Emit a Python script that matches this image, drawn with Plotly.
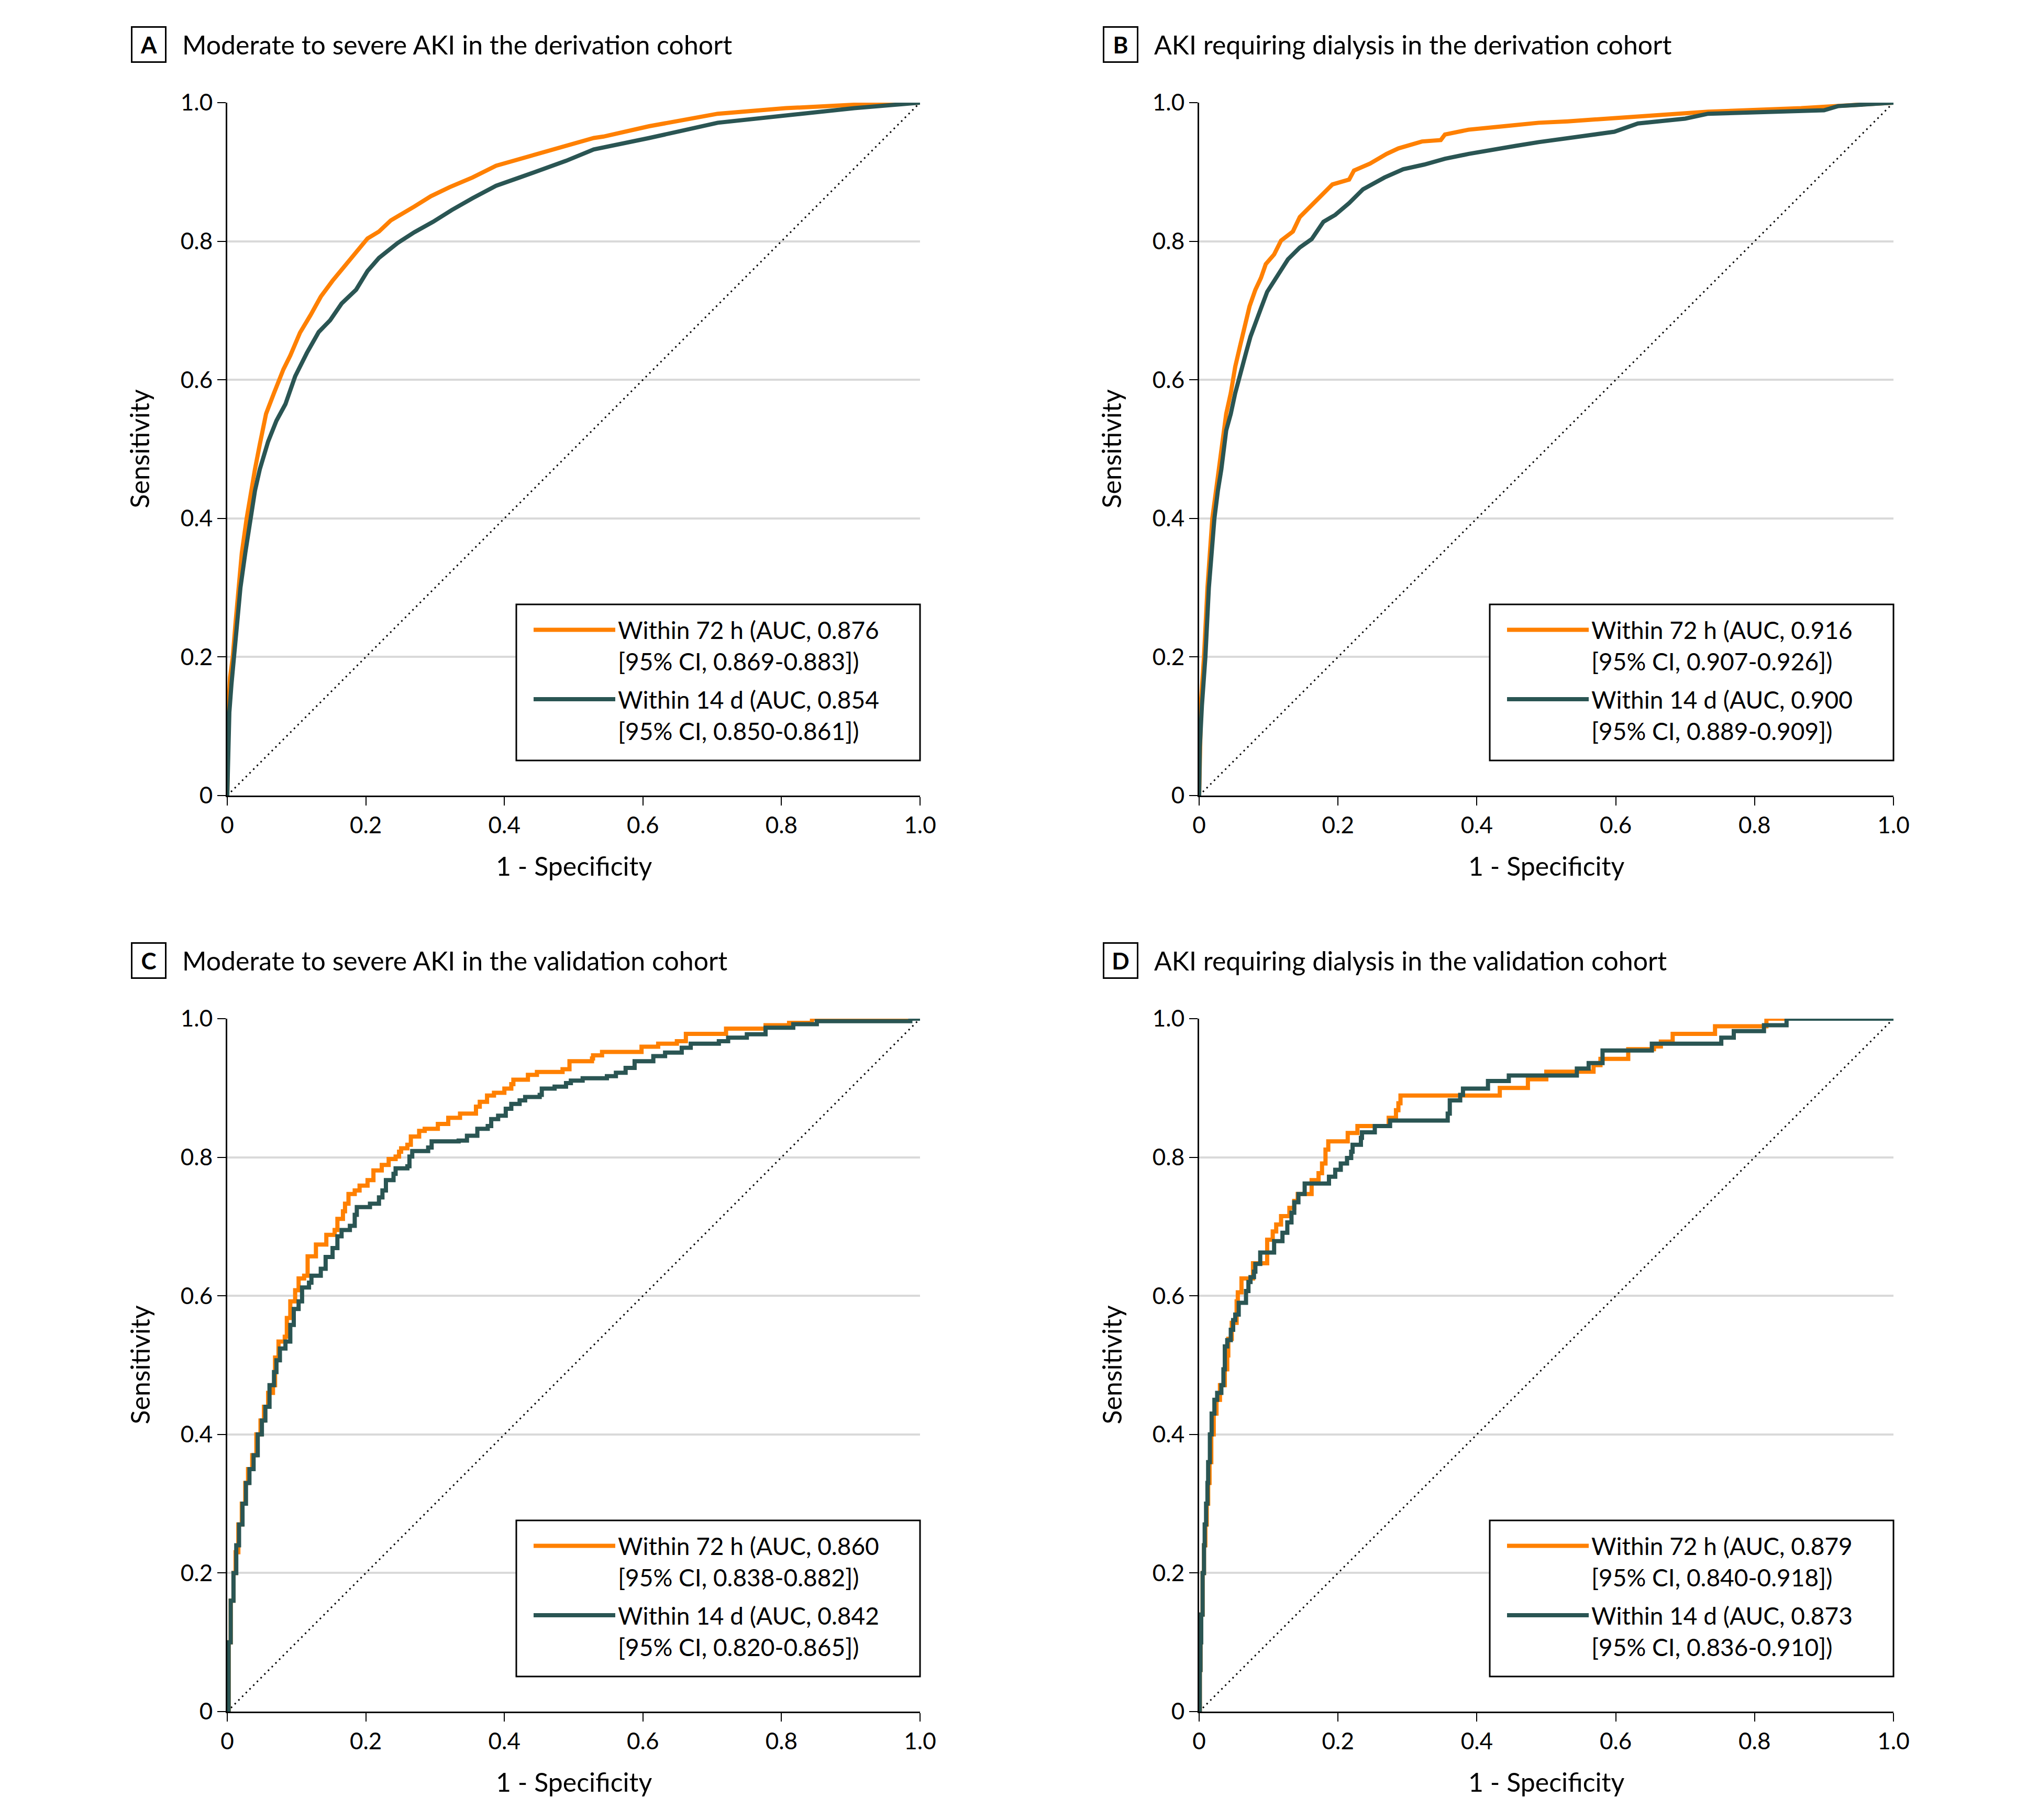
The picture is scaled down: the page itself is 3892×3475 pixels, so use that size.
import plotly.graph_objects as go

W, H = 3892, 3475

# ---------------- data ----------------
# Panel A: Moderate to severe AKI, derivation cohort
a72_fpr = [0, 0.001, 0.002, 0.004, 0.008, 0.012, 0.016, 0.021, 0.028, 0.034, 0.040, 0.047, 0.056, 0.0675, 0.081,
           0.091, 0.105, 0.120, 0.135, 0.152, 0.172, 0.184, 0.2025, 0.219, 0.236, 0.270, 0.294, 0.321, 0.354,
           0.388, 0.422, 0.456, 0.489, 0.529, 0.543, 0.609, 0.708, 0.806, 0.905, 1.0]
a72_tpr = [0, 0.08, 0.13, 0.17, 0.20, 0.25, 0.30, 0.35, 0.40, 0.44, 0.471, 0.507, 0.551, 0.581, 0.615,
           0.635, 0.668, 0.693, 0.720, 0.743, 0.767, 0.781, 0.804, 0.814, 0.830, 0.850, 0.865, 0.878, 0.892,
           0.909, 0.919, 0.929, 0.938, 0.949, 0.951, 0.966, 0.984, 0.992, 0.997, 1.0]
a14_fpr = [0, 0.001, 0.003, 0.006, 0.010, 0.014, 0.019, 0.026, 0.034, 0.040, 0.047, 0.059, 0.071, 0.084, 0.098,
           0.115, 0.132, 0.1485, 0.165, 0.186, 0.2025, 0.219, 0.246, 0.270, 0.297, 0.324, 0.354, 0.388, 0.422,
           0.456, 0.489, 0.529, 0.609, 0.708, 0.806, 0.905, 1.0]
a14_tpr = [0, 0.07, 0.12, 0.16, 0.20, 0.25, 0.30, 0.35, 0.40, 0.44, 0.471, 0.511, 0.541, 0.565, 0.605,
           0.639, 0.669, 0.686, 0.710, 0.730, 0.757, 0.776, 0.7975, 0.813, 0.828, 0.845, 0.862, 0.880, 0.892,
           0.904, 0.916, 0.9325, 0.949, 0.971, 0.982, 0.992, 1.0]

# Panel B: AKI requiring dialysis, derivation cohort
b72_fpr = [0, 0.001, 0.003, 0.007, 0.012, 0.019, 0.024, 0.029, 0.034, 0.039, 0.0456, 0.052, 0.059, 0.066,
           0.0726, 0.081, 0.089, 0.096, 0.108, 0.118, 0.135, 0.145, 0.162, 0.175, 0.192, 0.216, 0.223, 0.246,
           0.270, 0.287, 0.321, 0.348, 0.354, 0.388, 0.439, 0.489, 0.531, 0.665, 0.733, 0.867, 1.0]
b72_tpr = [0, 0.08, 0.14, 0.20, 0.30, 0.40, 0.44, 0.471, 0.514, 0.551, 0.581, 0.619, 0.649, 0.679,
           0.706, 0.730, 0.747, 0.767, 0.781, 0.801, 0.814, 0.835, 0.851, 0.865, 0.882, 0.889, 0.902, 0.912,
           0.926, 0.934, 0.944, 0.946, 0.954, 0.961, 0.966, 0.971, 0.973, 0.982, 0.987, 0.992, 1.0]
b14_fpr = [0, 0.001, 0.004, 0.009, 0.014, 0.022, 0.027, 0.032, 0.039, 0.0456, 0.052, 0.061, 0.0675, 0.074,
           0.081, 0.089, 0.098, 0.115, 0.128, 0.145, 0.162, 0.179, 0.196, 0.216, 0.236, 0.267, 0.294, 0.324,
           0.354, 0.388, 0.422, 0.456, 0.489, 0.529, 0.598, 0.632, 0.700, 0.733, 0.900, 0.920, 1.0]
b14_tpr = [0, 0.07, 0.13, 0.20, 0.30, 0.40, 0.44, 0.471, 0.527, 0.551, 0.581, 0.612, 0.639, 0.6625,
           0.683, 0.703, 0.727, 0.754, 0.774, 0.791, 0.803, 0.828, 0.838, 0.855, 0.875, 0.892, 0.904, 0.9106,
           0.919, 0.926, 0.9325, 0.9376, 0.943, 0.949, 0.958, 0.970, 0.977, 0.984, 0.989, 0.995, 1.0]

# Panel C: Moderate to severe AKI, validation cohort (step curves)
c72_fpr = [0, 0.002, 0.005, 0.009, 0.012, 0.016, 0.021, 0.026, 0.030, 0.036, 0.042, 0.048, 0.053, 0.059, 0.066,
           0.069, 0.074, 0.083, 0.086, 0.091, 0.098, 0.103, 0.111, 0.116, 0.128, 0.143, 0.155, 0.159, 0.167,
           0.170, 0.175, 0.184, 0.191, 0.2025, 0.211, 0.223, 0.233, 0.243, 0.248, 0.251, 0.260, 0.265, 0.277,
           0.285, 0.304, 0.319, 0.336, 0.359, 0.3645, 0.375, 0.385, 0.400, 0.410, 0.413, 0.434, 0.447, 0.484,
           0.494, 0.5265, 0.528, 0.541, 0.598, 0.622, 0.649, 0.662, 0.720, 0.777, 0.811, 0.844, 1.0]
c72_tpr = [0, 0.10, 0.16, 0.20, 0.23, 0.27, 0.30, 0.33, 0.35, 0.37, 0.40, 0.42, 0.44, 0.46, 0.471,
           0.511, 0.534, 0.541, 0.568, 0.592, 0.608, 0.625, 0.629, 0.657, 0.674, 0.688, 0.695, 0.711, 0.722,
           0.733, 0.747, 0.752, 0.759, 0.767, 0.781, 0.789, 0.7975, 0.801, 0.808, 0.813, 0.818, 0.830, 0.838,
           0.841, 0.848, 0.857, 0.863, 0.873, 0.880, 0.889, 0.893, 0.899, 0.9055, 0.912, 0.919, 0.923, 0.927,
           0.9386, 0.9426, 0.947, 0.952, 0.9595, 0.964, 0.9675, 0.978, 0.9856, 0.9906, 0.994, 1.0, 1.0]
c14_fpr = [0, 0.002, 0.005, 0.009, 0.013, 0.017, 0.022, 0.027, 0.032, 0.038, 0.044, 0.050, 0.055, 0.061,
           0.0675, 0.071, 0.076, 0.084, 0.091, 0.096, 0.103, 0.108, 0.118, 0.1215, 0.135, 0.142, 0.152, 0.159,
           0.165, 0.177, 0.184, 0.187, 0.206, 0.219, 0.224, 0.229, 0.240, 0.243, 0.260, 0.263, 0.267, 0.290,
           0.295, 0.334, 0.346, 0.361, 0.376, 0.381, 0.391, 0.402, 0.410, 0.422, 0.430, 0.451, 0.454, 0.4725,
           0.489, 0.496, 0.513, 0.548, 0.561, 0.575, 0.588, 0.615, 0.632, 0.656, 0.669, 0.7096, 0.723, 0.750,
           0.777, 0.817, 0.851, 0.986, 1.0]
c14_tpr = [0, 0.10, 0.16, 0.20, 0.24, 0.27, 0.30, 0.33, 0.35, 0.37, 0.40, 0.42, 0.44, 0.471,
           0.490, 0.507, 0.524, 0.534, 0.558, 0.581, 0.592, 0.612, 0.619, 0.629, 0.639, 0.656, 0.669, 0.686,
           0.695, 0.701, 0.717, 0.728, 0.733, 0.742, 0.752, 0.767, 0.776, 0.784, 0.787, 0.801, 0.809, 0.814,
           0.823, 0.824, 0.831, 0.841, 0.845, 0.855, 0.860, 0.870, 0.877, 0.882, 0.887, 0.890, 0.899, 0.902,
           0.907, 0.9106, 0.914, 0.917, 0.922, 0.929, 0.9386, 0.946, 0.951, 0.958, 0.964, 0.9675, 0.9726, 0.9776,
           0.987, 0.992, 0.9964, 1.0, 1.0]

# Panel D: AKI requiring dialysis, validation cohort (step curves)
d72_fpr = [0, 0.001, 0.002, 0.003, 0.005, 0.007, 0.009, 0.011, 0.013, 0.015, 0.0175, 0.021, 0.025, 0.030,
           0.037, 0.0405, 0.042, 0.047, 0.054, 0.0557, 0.061, 0.0776, 0.098, 0.106, 0.111, 0.118, 0.130,
           0.137, 0.142, 0.162, 0.172, 0.177, 0.182, 0.186, 0.214, 0.228, 0.273, 0.2835, 0.287, 0.290, 0.433,
           0.4735, 0.500, 0.568, 0.578, 0.618, 0.655, 0.665, 0.682, 0.743, 0.817, 1.0]
d72_tpr = [0, 0.06, 0.10, 0.14, 0.20, 0.24, 0.27, 0.30, 0.33, 0.36, 0.40, 0.43, 0.45, 0.471,
           0.494, 0.514, 0.538, 0.561, 0.592, 0.605, 0.625, 0.647, 0.681, 0.693, 0.703, 0.715, 0.727,
           0.737, 0.747, 0.767, 0.777, 0.791, 0.811, 0.823, 0.835, 0.845, 0.857, 0.868, 0.878, 0.889, 0.900,
           0.9126, 0.9235, 0.933, 0.942, 0.956, 0.960, 0.967, 0.978, 0.989, 1.0, 1.0]
d14_fpr = [0, 0.001, 0.002, 0.003, 0.005, 0.007, 0.008, 0.010, 0.012, 0.013, 0.0155, 0.018, 0.022, 0.026,
           0.032, 0.035, 0.037, 0.0405, 0.0456, 0.049, 0.052, 0.057, 0.0675, 0.071, 0.074, 0.079, 0.081, 0.088,
           0.108, 0.120, 0.127, 0.133, 0.137, 0.143, 0.152, 0.187, 0.196, 0.204, 0.213, 0.219, 0.221, 0.233,
           0.2345, 0.253, 0.275, 0.358, 0.361, 0.376, 0.380, 0.416, 0.446, 0.544, 0.561, 0.581, 0.652, 0.752,
           0.770, 0.8135, 0.846, 1.0]
d14_tpr = [0, 0.06, 0.10, 0.14, 0.20, 0.24, 0.27, 0.30, 0.33, 0.36, 0.40, 0.43, 0.45, 0.46,
           0.471, 0.494, 0.527, 0.536, 0.551, 0.565, 0.573, 0.590, 0.607, 0.620, 0.627, 0.635, 0.646, 0.6625,
           0.679, 0.691, 0.706, 0.720, 0.735, 0.747, 0.762, 0.772, 0.782, 0.791, 0.799, 0.808, 0.818, 0.828,
           0.836, 0.845, 0.853, 0.863, 0.882, 0.890, 0.899, 0.910, 0.918, 0.928, 0.936, 0.954, 0.964, 0.9726,
           0.982, 0.9906, 1.0, 1.0]

diag_x = [0, 1]
diag_y = [0, 1]

panel_letters = ["A", "B", "C", "D"]
panel_titles = [
    "Moderate to severe AKI in the derivation cohort",
    "AKI requiring dialysis in the derivation cohort",
    "Moderate to severe AKI in the validation cohort",
    "AKI requiring dialysis in the validation cohort",
]
legend_72 = [
    "Within 72 h (AUC, 0.876<br>[95% CI, 0.869-0.883])",
    "Within 72 h (AUC, 0.916<br>[95% CI, 0.907-0.926])",
    "Within 72 h (AUC, 0.860<br>[95% CI, 0.838-0.882])",
    "Within 72 h (AUC, 0.879<br>[95% CI, 0.840-0.918])",
]
legend_14 = [
    "Within 14 d (AUC, 0.854<br>[95% CI, 0.850-0.861])",
    "Within 14 d (AUC, 0.900<br>[95% CI, 0.889-0.909])",
    "Within 14 d (AUC, 0.842<br>[95% CI, 0.820-0.865])",
    "Within 14 d (AUC, 0.873<br>[95% CI, 0.836-0.910])",
]
tick_vals = [0, 0.2, 0.4, 0.6, 0.8, 1.0]
tick_text = ["0", "0.2", "0.4", "0.6", "0.8", "1.0"]
x_title = "1 - Specificity"
y_title = "Sensitivity"

curves72 = [(a72_fpr, a72_tpr), (b72_fpr, b72_tpr), (c72_fpr, c72_tpr), (d72_fpr, d72_tpr)]
curves14 = [(a14_fpr, a14_tpr), (b14_fpr, b14_tpr), (c14_fpr, c14_tpr), (d14_fpr, d14_tpr)]
shapes_line = ["linear", "linear", "hv", "hv"]

# ---------------- layout geometry (pixels) ----------------
FONT = "Lato, 'Noto Sans', 'Open Sans', sans-serif"
ORANGE = "#FF8000"
TEAL = "#2A5553"
OFF = 8  # page body margin

col_px = [(434, 1757), (2290, 3616)]
row_px = [(196, 1519), (1945, 3268)]

def px_x(p):
    return (p - OFF) / W

def px_y(p):
    return 1 - (p - OFF) / H

fig = go.Figure()
layout = dict(
    width=W, height=H, autosize=False,
    margin=dict(l=0, r=0, t=0, b=0, pad=0, autoexpand=False),
    paper_bgcolor="white", plot_bgcolor="white",
    font=dict(family=FONT, color="black", size=46),
    showlegend=True,
    annotations=[], shapes=[],
)

for i in range(4):
    r, c = divmod(i, 2)
    sfx = "" if i == 0 else str(i + 1)
    xa, ya = "x" + sfx, "y" + sfx
    (x0, x1), (y0, y1) = col_px[c], row_px[r]
    leg = "legend" if i == 0 else "legend" + str(i + 1)

    fig.add_trace(go.Scatter(x=diag_x, y=diag_y, mode="lines", xaxis=xa, yaxis=ya,
                             line=dict(color="black", width=3, dash="3px,7px"),
                             showlegend=False, hoverinfo="skip"))
    fx, fy = curves72[i]
    fig.add_trace(go.Scatter(x=fx, y=fy, mode="lines", xaxis=xa, yaxis=ya, name=legend_72[i],
                             legend=leg, legendgroup="g72_%d" % i,
                             line=dict(color=ORANGE, width=8, shape=shapes_line[i])))
    fx, fy = curves14[i]
    fig.add_trace(go.Scatter(x=fx, y=fy, mode="lines", xaxis=xa, yaxis=ya, name=legend_14[i],
                             legend=leg, legendgroup="g14_%d" % i,
                             line=dict(color=TEAL, width=8, shape=shapes_line[i])))

    common = dict(range=[0, 1], tickvals=tick_vals, ticktext=tick_text, showline=True,
                  linecolor="black", linewidth=3, ticks="outside", ticklen=16, tickwidth=2,
                  tickcolor="black", zeroline=False, tickfont=dict(size=44, family=FONT),
                  fixedrange=True, automargin=False)
    layout["xaxis" + sfx] = dict(common, domain=[px_x(x0), px_x(x1)], anchor=ya,
                                 showgrid=False)
    layout["yaxis" + sfx] = dict(common, domain=[px_y(y1), px_y(y0)], anchor=xa,
                                 showgrid=True, gridcolor="#D9D9D9", gridwidth=4)

    # legend frame (box) and legend
    layout["shapes"].append(dict(type="rect", xref="paper", yref="paper", layer="above",
                                 x0=px_x(x1 - 771), x1=px_x(x1), y0=px_y(y0 + 958), y1=px_y(y0 + 1256),
                                 fillcolor="white", line=dict(color="black", width=3)))
    layout[leg] = dict(x=px_x(x1 - 771 + 28), xanchor="left", y=px_y(y0 + 970), yanchor="top",
                       bgcolor="rgba(0,0,0,0)", borderwidth=0,
                       font=dict(size=46, family=FONT), valign="top", itemwidth=156,
                       tracegroupgap=10)

    # panel label box and title
    dy = y0 - 196
    layout["annotations"].append(dict(
        text="<b>%s</b>" % panel_letters[i], xref="paper", yref="paper",
        x=px_x(x0 - 150), y=px_y(84.5 + dy), xanchor="center", yanchor="middle",
        showarrow=False, font=dict(size=44, family=FONT), width=58, height=60,
        bordercolor="black", borderwidth=3, borderpad=2, bgcolor="white"))
    layout["annotations"].append(dict(
        text=panel_titles[i], xref="paper", yref="paper",
        x=px_x(x0 - 88), y=px_y(84.5 + dy), xanchor="left", yanchor="middle",
        showarrow=False, font=dict(size=50, family=FONT)))
    # axis titles
    layout["annotations"].append(dict(
        text=x_title, xref="paper", yref="paper",
        x=px_x((x0 + x1) / 2), y=px_y(y1 + 134), xanchor="center", yanchor="middle",
        showarrow=False, font=dict(size=50, family=FONT)))
    layout["annotations"].append(dict(
        text=y_title, xref="paper", yref="paper", textangle=-90,
        x=px_x(x0 - 168), y=px_y((y0 + y1) / 2), xanchor="center", yanchor="middle",
        showarrow=False, font=dict(size=50, family=FONT)))

fig.update_layout(**layout)
fig.write_html("out.html", config={"responsive": False})
